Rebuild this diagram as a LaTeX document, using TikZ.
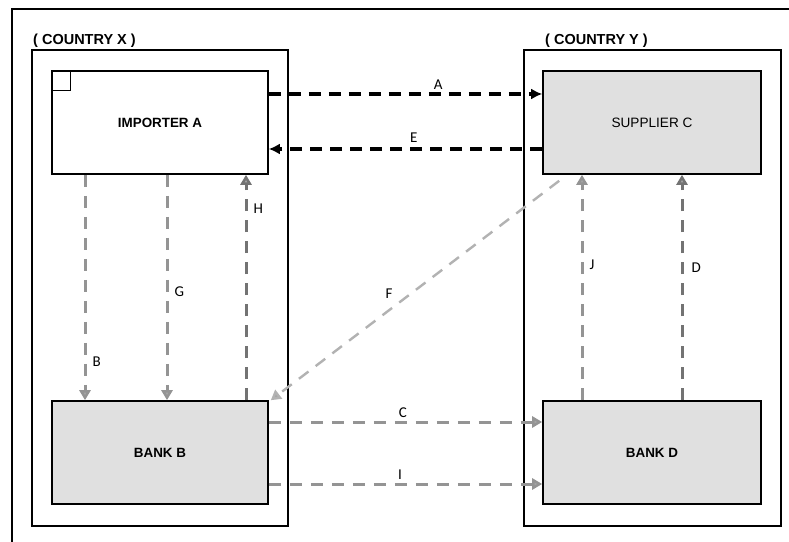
\documentclass[tikz,border=0pt]{standalone}
\usepackage{fontspec}
\setmainfont{Liberation Sans}
\newfontfamily\lblfont{Carlito}
\usepackage{tikz}
\usetikzlibrary{arrows.meta}
\tikzstyle{partybox} = [draw=black, line width=1.6pt, rectangle, minimum width=216pt, minimum height=103pt, inner sep=0pt, font=\fontsize{13.4}{15}\selectfont\bfseries]
\tikzstyle{countrybox} = [draw=black, line width=1.5pt, rectangle, minimum width=256pt, minimum height=476pt, inner sep=0pt]
\tikzstyle{countrytitle} = [anchor=west, inner sep=0pt, font=\fontsize{14.5}{16}\selectfont\bfseries]
\tikzstyle{flowblack} = [draw=black, line width=3.4pt, dash pattern=on 12pt off 8pt, -{Latex[length=11pt,width=11pt]}]
\tikzstyle{flowgray} = [draw=black!42, line width=3pt, dash pattern=on 12pt off 9pt, -{Triangle[length=10pt,width=11pt,fill=black!35]}]
\tikzstyle{flowlbl} = [font=\lblfont\fontsize{15}{17}\selectfont, text=black, inner sep=2pt]

\begin{document}
\begin{tikzpicture}[x=1pt,y=1pt]
\useasboundingbox (0,0) rectangle (789,541);
\fill[white] (0,0) rectangle (789,541);
% outer frame (cut by the page)
\draw[line width=1.5pt] (12,-10) -- (12,532) -- (800,532);

% the two countries
\node[countrybox] (ctryX) at (160,253) {};
\node[countrybox, minimum width=257pt] (ctryY) at (652.5,253) {};
\node[countrytitle] at (33,500) {( COUNTRY X )};
\node[countrytitle] at (545,500) {( COUNTRY Y )};

% parties
\node[partybox, fill=white] (impA) at (160,418.5) {IMPORTER A};
\draw[line width=1.1pt] (impA.north west) rectangle ++(19,-20);
\node[partybox, fill=black!12, minimum width=218pt, font=\fontsize{13.6}{15}\selectfont] (supC) at (652,418.5) {SUPPLIER C};
\node[partybox, fill=black!12] (bankB) at (160,88.5) {BANK B};
\node[partybox, fill=black!12, minimum width=218pt] (bankD) at (652,88.5) {BANK D};

% goods and documents
\draw[flowblack] ([yshift=28.5pt]impA.east) -- node[flowlbl, pos=0.62, above=1pt] {A} ([yshift=28.5pt]supC.west);
\draw[flowblack] ([yshift=-26.5pt]supC.west) -- node[flowlbl, pos=0.47, above=3pt] {E} ([yshift=-26.5pt]impA.east);

% payments
\draw[flowgray] ([xshift=-75pt]impA.south) -- node[flowlbl, pos=0.83, right=4pt] {B} ([xshift=-75pt]bankB.north);
\draw[flowgray] ([xshift=7pt]impA.south) -- node[flowlbl, pos=0.52, right=4pt] {G} ([xshift=7pt]bankB.north);
\draw[flowgray, draw=black!55] ([xshift=86pt]bankB.north) -- node[flowlbl, pos=0.85, right=4pt] {H} ([xshift=86pt]impA.south);
\draw[flowgray, draw=black!30, line width=2.4pt] ([xshift=17pt,yshift=-6pt]supC.south west) -- node[flowlbl, pos=0.56, above left=2pt] {F} ([xshift=2pt]bankB.north east);
\draw[flowgray] ([yshift=30.5pt]bankB.east) -- node[flowlbl, pos=0.49, above=1pt] {C} ([yshift=30.5pt]bankD.west);
\draw[flowgray] ([yshift=-31.5pt]bankB.east) -- node[flowlbl, pos=0.48, above=1pt] {I} ([yshift=-31.5pt]bankD.west);
\draw[flowgray] ([xshift=-70pt]bankD.north) -- node[flowlbl, pos=0.6, right=4pt] {J} ([xshift=-70pt]supC.south);
\draw[flowgray, draw=black!55] ([xshift=30pt]bankD.north) -- node[flowlbl, pos=0.59, right=6pt] {D} ([xshift=30pt]supC.south);
\end{tikzpicture}
\end{document}
